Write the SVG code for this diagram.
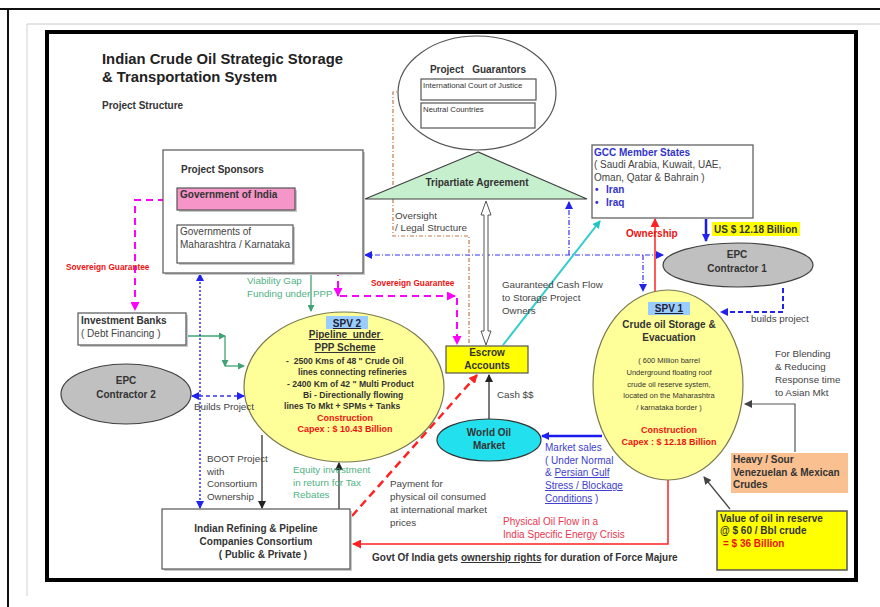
<svg xmlns="http://www.w3.org/2000/svg" width="880" height="607" viewBox="0 0 880 607">
<style>
text{font-family:"Liberation Sans",Arial,sans-serif;fill:#333}
.b{font-weight:bold}
.t10{font-size:10px}
.g{fill:#444;font-size:9.8px}
.red{fill:#ee1111}
.grn{fill:#4fb283;font-size:9.8px}
.blu{fill:#3333cc}
.mid{text-anchor:middle}
.box{fill:#fff;stroke:#555;stroke-width:1.2}
.sh{fill:#c8c8c8}
.u{text-decoration:underline}
</style>
<defs>
<marker id="aMag" markerUnits="userSpaceOnUse" markerWidth="9" markerHeight="9" refX="8" refY="4.5" orient="auto-start-reverse"><path d="M0,0 L9,4.5 L0,9 z" fill="#ff00ff"/></marker>
<marker id="aBlu" markerUnits="userSpaceOnUse" markerWidth="8" markerHeight="8" refX="7" refY="4" orient="auto-start-reverse"><path d="M0,0 L8,4 L0,8 z" fill="#2222ee"/></marker>
<marker id="aGrn" markerUnits="userSpaceOnUse" markerWidth="7" markerHeight="7" refX="6" refY="3.5" orient="auto-start-reverse"><path d="M0,0 L7,3.5 L0,7 z" fill="#3fa374"/></marker>
<marker id="aRed" markerUnits="userSpaceOnUse" markerWidth="9" markerHeight="9" refX="8" refY="4.5" orient="auto-start-reverse"><path d="M0,0 L9,4.5 L0,9 z" fill="#ff2222"/></marker>
<marker id="aBlk" markerUnits="userSpaceOnUse" markerWidth="8" markerHeight="8" refX="7" refY="4" orient="auto-start-reverse"><path d="M0,0 L8,4 L0,8 z" fill="#222"/></marker>
<marker id="aCyn" markerUnits="userSpaceOnUse" markerWidth="8" markerHeight="8" refX="7" refY="4" orient="auto-start-reverse"><path d="M0,0 L8,4 L0,8 z" fill="#22c4c4"/></marker>
<marker id="aGry" markerUnits="userSpaceOnUse" markerWidth="8" markerHeight="8" refX="7" refY="4" orient="auto-start-reverse"><path d="M0,0 L8,4 L0,8 z" fill="#444"/></marker>
</defs>

<!-- page frame -->
<rect x="0" y="0" width="880" height="607" fill="#fff"/>
<line x1="0" y1="9" x2="880" y2="9" stroke="#111" stroke-width="2"/>
<line x1="8" y1="9" x2="8" y2="607" stroke="#111" stroke-width="2"/>
<line x1="27" y1="24" x2="880" y2="24" stroke="#c8c8c8" stroke-width="1"/>
<line x1="27" y1="24" x2="27" y2="596" stroke="#d0d0d0" stroke-width="1"/>
<rect x="47" y="32" width="809" height="548" fill="none" stroke="#000" stroke-width="4"/>

<!-- title -->
<g id="title">
<text x="102" y="64" class="b" style="font-size:14.8px;fill:#222">Indian Crude Oil Strategic Storage</text>
<text x="102" y="82" class="b" style="font-size:14.8px;fill:#222">&amp; Transportation System</text>
<text x="102" y="109" class="b t10" style="fill:#333">Project Structure</text>
</g>

<!-- connectors -->
<g id="connectors" fill="none">
<!-- oversight dash-dot -->
<polyline points="403,92 393,92 393,236 469,236 469,344" stroke="#c8784a" stroke-width="1.2" stroke-dasharray="4,2,1,2"/>
<!-- magenta sovereign guarantee -->
<polyline points="177,200 135,200 135,310" stroke="#ff00ff" stroke-width="2" stroke-dasharray="7,5" marker-end="url(#aMag)"/>
<line x1="295" y1="192" x2="336" y2="192" stroke="#ff00ff" stroke-width="2" stroke-dasharray="7,5" marker-end="url(#aMag)"/>
<line x1="338" y1="197" x2="338" y2="296" stroke="#ff00ff" stroke-width="2" stroke-dasharray="7,5" marker-end="url(#aMag)"/>
<line x1="340" y1="296" x2="455" y2="296" stroke="#ff00ff" stroke-width="2" stroke-dasharray="7,5" marker-end="url(#aMag)"/>
<line x1="457" y1="298" x2="457" y2="344" stroke="#ff00ff" stroke-width="2" stroke-dasharray="7,5" marker-end="url(#aMag)"/>
<!-- green viability -->
<line x1="296" y1="201" x2="311" y2="201" stroke="#3fa374" stroke-width="1.3" marker-end="url(#aGrn)"/>
<line x1="311" y1="201" x2="311" y2="311" stroke="#3fa374" stroke-width="1.3" marker-end="url(#aGrn)"/>
<!-- green investment banks -->
<line x1="186" y1="336" x2="225" y2="336" stroke="#3fa374" stroke-width="1.3" marker-end="url(#aGrn)"/>
<line x1="225" y1="336" x2="225" y2="366" stroke="#3fa374" stroke-width="1.3" marker-end="url(#aGrn)"/>
<line x1="225" y1="366" x2="244" y2="366" stroke="#3fa374" stroke-width="1.3" marker-end="url(#aGrn)"/>
<!-- blue dotted vertical sponsors-consortium -->
<line x1="200" y1="274" x2="200" y2="508" stroke="#3333ee" stroke-width="1.5" stroke-dasharray="2,2" marker-start="url(#aBlu)" marker-end="url(#aBlu)"/>
<!-- blue dashed EPC2-SPV2 -->
<line x1="192" y1="396" x2="244" y2="396" stroke="#3333ee" stroke-width="1.5" stroke-dasharray="4,3" marker-start="url(#aBlu)" marker-end="url(#aBlu)"/>
<!-- blue dash-dot horizontal -->
<line x1="365" y1="255" x2="663" y2="255" stroke="#3333ee" stroke-width="1.2" stroke-dasharray="5,2,1,2" marker-start="url(#aBlu)" marker-end="url(#aBlu)"/>
<line x1="569" y1="255" x2="569" y2="202" stroke="#3333ee" stroke-width="1.2" stroke-dasharray="5,2,1,2" marker-end="url(#aBlu)"/>
<line x1="643" y1="255" x2="643" y2="291" stroke="#3333ee" stroke-width="1.2" stroke-dasharray="5,2,1,2" marker-end="url(#aBlu)"/>
<!-- ownership red -->
<line x1="655" y1="293" x2="655" y2="219" stroke="#ff2222" stroke-width="1.5" marker-end="url(#aRed)"/>
<!-- GCC to EPC1 -->
<line x1="706" y1="219" x2="706" y2="241" stroke="#1a1aee" stroke-width="2.5" marker-end="url(#aBlu)"/>
<!-- builds project -->
<polyline points="783,288 783,312 721,312" stroke="#2222ee" stroke-width="2" stroke-dasharray="5,3" marker-end="url(#aBlu)"/>
<!-- cyan guaranteed cash flow -->
<line x1="503" y1="345" x2="600" y2="221" stroke="#33cccc" stroke-width="2" marker-end="url(#aCyn)"/>
<!-- hollow double arrow -->
<polygon points="486,201 491,215 488,215 488,331 491,331 486,345 481,331 484,331 484,215 481,215" fill="#fff" stroke="#555" stroke-width="1"/>
<!-- cash $$ -->
<line x1="489" y1="419" x2="489" y2="375" stroke="#222" stroke-width="1.2" marker-end="url(#aBlk)"/>
<!-- market sales -->
<line x1="602" y1="436" x2="542" y2="436" stroke="#1a1aee" stroke-width="2.5" marker-end="url(#aBlu)"/>
<!-- red dashed payment -->
<line x1="352" y1="516" x2="477" y2="375" stroke="#ff2222" stroke-width="2.5" stroke-dasharray="8,5" marker-end="url(#aRed)"/>
<!-- physical oil flow -->
<polyline points="668,480 668,544 353,544" stroke="#ff2222" stroke-width="1.5" marker-end="url(#aRed)"/>
<!-- heavy sour to SPV1 -->
<polyline points="795,452 795,404 745,404" stroke="#555" stroke-width="1.2" marker-end="url(#aGry)"/>
<!-- value to SPV1 -->
<line x1="730" y1="509" x2="704" y2="477" stroke="#444" stroke-width="1.2" marker-end="url(#aGry)"/>
<!-- SPV2 to consortium -->
<line x1="262" y1="435" x2="262" y2="508" stroke="#222" stroke-width="1.2" marker-end="url(#aBlk)"/>
<!-- consortium to SPV2 -->
<line x1="339" y1="509" x2="339" y2="463" stroke="#222" stroke-width="1.2" marker-end="url(#aBlk)"/>
</g>

<!-- nodes -->
<g id="guarantors">
<ellipse cx="477" cy="93" rx="79" ry="57" fill="#fff" stroke="#555" stroke-width="1.2"/>
<text x="478" y="73" class="b t10 mid" xml:space="preserve">Project   Guarantors</text>
<rect x="421" y="79" width="115" height="21" class="box"/>
<text x="423" y="88" style="font-size:7.8px">International Court of Justice</text>
<rect x="421" y="103" width="114" height="25" class="box"/>
<text x="423" y="112" style="font-size:7.8px">Neutral Countries</text>
</g>

<g id="tripartite">
<polygon points="478,152 365,199 587,199" fill="#c6efce" stroke="#404040" stroke-width="1.2"/>
<text x="477" y="186" class="b t10 mid">Tripartiate Agreement</text>
</g>

<g id="sponsors">
<rect x="165" y="152" width="200" height="123" class="sh"/>
<rect x="163" y="150" width="200" height="123" class="box"/>
<text x="181" y="173" class="b t10">Project Sponsors</text>
<rect x="179" y="190" width="118" height="22" class="sh"/>
<rect x="177" y="188" width="118" height="22" fill="#f595c8" stroke="#555" stroke-width="1.2"/>
<text x="180" y="198" class="b t10">Government of India</text>
<rect x="179" y="227" width="116" height="38" class="sh"/>
<rect x="177" y="225" width="116" height="38" class="box"/>
<text x="180" y="235" class="t10" style="fill:#444">Governments of</text>
<text x="180" y="248" class="t10" style="fill:#444">Maharashtra / Karnataka</text>
</g>

<g id="sovereign-labels">
<text x="66" y="270" class="b red" style="font-size:8.3px">Sovereign Guarantee</text>
<text x="371" y="286" class="b red" style="font-size:8.3px">Sovereign Guarantee</text>
</g>

<g id="investment-banks">
<rect x="80" y="315" width="108" height="32" class="sh"/>
<rect x="78" y="313" width="108" height="32" class="box"/>
<text x="81" y="324" class="b t10">Investment Banks</text>
<text x="81" y="337" class="t10" style="fill:#444">( Debt Financing )</text>
</g>

<g id="epc2">
<ellipse cx="126" cy="394" rx="65" ry="30" fill="#c0c0c0" stroke="#404040" stroke-width="1.2"/>
<text x="126" y="384" class="b t10 mid">EPC</text>
<text x="126" y="398" class="b t10 mid">Contractor 2</text>
</g>

<g id="spv2">
<ellipse cx="344" cy="387" rx="100" ry="75" fill="#ffff99" stroke="#7a7a50" stroke-width="1.2"/>
<rect x="326" y="316" width="42" height="13" fill="#99ccff"/>
<text x="347" y="327" class="b t10 mid u" style="fill:#223">SPV 2</text>
<text x="346" y="338" class="b t10 mid u" xml:space="preserve">Pipeline  under </text>
<text x="345" y="351" class="b t10 mid u">PPP Scheme </text>
<text x="286" y="364" class="b" style="font-size:8.6px" xml:space="preserve">-  2500 Kms of 48 " Crude Oil</text>
<text x="298" y="375" class="b" style="font-size:8.6px">lines connecting refineries</text>
<text x="287" y="387" class="b" style="font-size:8.6px">- 2400 Km of 42 " Multi Product</text>
<text x="303" y="398" class="b" style="font-size:8.6px">Bi - Directionally flowing</text>
<text x="284" y="409" class="b" style="font-size:8.6px">lines To Mkt + SPMs + Tanks</text>
<text x="345" y="421" class="b mid red" style="font-size:9px">Construction</text>
<text x="345" y="432" class="b mid red" style="font-size:9px">Capex : $ 10.43 Billion</text>
</g>

<g id="consortium">
<rect x="164" y="511" width="188" height="60" class="sh"/>
<rect x="162" y="509" width="188" height="60" class="box"/>
<text x="256" y="532" class="b t10 mid">Indian Refining &amp; Pipeline</text>
<text x="256" y="545" class="b t10 mid">Companies Consortium</text>
<text x="263" y="558" class="b t10 mid">( Public &amp; Private )</text>
</g>

<g id="escrow">
<rect x="446" y="346" width="82" height="27" fill="#ffff00" stroke="#555" stroke-width="1.2"/>
<text x="487" y="356" class="b t10 mid">Escrow</text>
<text x="487" y="369" class="b t10 mid">Accounts</text>
</g>

<g id="world-oil">
<ellipse cx="489" cy="440" rx="52" ry="21" fill="#22e0ee" stroke="#333" stroke-width="1.2"/>
<text x="489" y="436" class="b t10 mid">World Oil</text>
<text x="489" y="449" class="b t10 mid">Market</text>
</g>

<g id="spv1">
<ellipse cx="668" cy="385" rx="75" ry="95" fill="#ffff99" stroke="#7a7a50" stroke-width="1.2"/>
<rect x="648" y="302" width="42" height="13" fill="#99ccff"/>
<text x="669" y="312" class="b t10 mid u" style="fill:#223">SPV 1</text>
<text x="669" y="328" class="b t10 mid">Crude oil Storage &amp;</text>
<text x="669" y="341" class="b t10 mid">Evacuation</text>
<text x="669" y="363" class="mid" style="font-size:7.5px">( 600 Million barrel</text>
<text x="669" y="375" class="mid" style="font-size:7.5px">Underground floating roof</text>
<text x="669" y="387" class="mid" style="font-size:7.5px">crude oil reserve system,</text>
<text x="669" y="398" class="mid" style="font-size:7.5px">located on the Maharashtra</text>
<text x="669" y="410" class="mid" style="font-size:7.5px">/ karnataka border )</text>
<text x="669" y="433" class="b mid red" style="font-size:9px">Construction</text>
<text x="669" y="445" class="b mid red" style="font-size:9px">Capex : $ 12.18 Billion</text>
</g>

<g id="gcc">
<rect x="592" y="145" width="161" height="73" class="box"/>
<text x="594" y="156" class="b t10 blu">GCC Member States</text>
<text x="594" y="168" class="t10" style="fill:#444">( Saudi Arabia, Kuwait, UAE,</text>
<text x="594" y="181" class="t10" style="fill:#444">Oman, Qatar &amp; Bahrain )</text>
<text x="595" y="193" class="b t10 blu">•</text>
<text x="606" y="193" class="b t10 blu">Iran</text>
<text x="595" y="206" class="b t10 blu">•</text>
<text x="606" y="206" class="b t10 blu">Iraq</text>
</g>

<g id="us-billion">
<rect x="712" y="222" width="88" height="14" fill="#ffff00"/>
<text x="714" y="233" class="b t10">US $ 12.18 Billion</text>
</g>

<g id="epc1">
<ellipse cx="738" cy="265" rx="75" ry="22" fill="#c0c0c0" stroke="#404040" stroke-width="1.2"/>
<text x="737" y="258" class="b t10 mid">EPC</text>
<text x="737" y="272" class="b t10 mid">Contractor 1</text>
</g>

<g id="heavy-sour">
<rect x="731" y="453" width="117" height="40" fill="#fac090"/>
<text x="733" y="463" class="b t10">Heavy / Sour</text>
<text x="733" y="476" class="b t10">Venezuelan &amp; Mexican</text>
<text x="733" y="488" class="b t10">Crudes</text>
</g>

<g id="value-box">
<rect x="717" y="511" width="130" height="59" fill="#ffff00" stroke="#555" stroke-width="1.5"/>
<text x="720" y="522" class="b t10">Value of oil in reserve</text>
<text x="720" y="534" class="b t10">@ $ 60 / Bbl crude</text>
<text x="723" y="547" class="b t10 red">= $ 36 Billion</text>
</g>

<g id="labels">
<text x="626" y="237" class="b t10 red">Ownership</text>
<text x="395" y="219" class="g">Oversight</text>
<text x="395" y="231" class="g">/ Legal Structure</text>
<text x="247" y="284" class="grn">Viability Gap</text>
<text x="247" y="297" class="grn">Funding under PPP</text>
<text x="194" y="410" class="g">Builds Project</text>
<text x="207" y="462" class="g">BOOT Project</text>
<text x="207" y="475" class="g">with</text>
<text x="207" y="487" class="g">Consortium</text>
<text x="207" y="500" class="g">Ownership</text>
<text x="293" y="473" class="grn">Equity investment</text>
<text x="293" y="486" class="grn">in return for Tax</text>
<text x="293" y="498" class="grn">Rebates</text>
<text x="390" y="487" class="g">Payment for</text>
<text x="390" y="500" class="g">physical oil consumed</text>
<text x="390" y="513" class="g">at international market</text>
<text x="390" y="526" class="g">prices</text>
<text x="502" y="288" class="g">Gauranteed Cash Flow</text>
<text x="502" y="301" class="g">to Storage Project</text>
<text x="502" y="314" class="g">Owners</text>
<text x="497" y="398" class="g">Cash $$</text>
<text x="545" y="451" class="t10" style="fill:#4040d0">Market sales</text>
<text x="545" y="464" class="t10" style="fill:#4040d0">( Under Normal</text>
<text x="545" y="476" class="t10" style="fill:#4040d0">&amp; <tspan class="u">Persian Gulf</tspan></text>
<text x="545" y="489" class="t10 u" style="fill:#4040d0">Stress / Blockage</text>
<text x="545" y="502" class="t10" style="fill:#4040d0"><tspan class="u">Conditions</tspan> )</text>
<text x="751" y="322" class="g">builds project</text>
<text x="775" y="357" class="g">For Blending</text>
<text x="775" y="370" class="g">&amp; Reducing</text>
<text x="775" y="383" class="g">Response time</text>
<text x="775" y="396" class="g">to Asian Mkt</text>
<text x="503" y="525" class="t10" style="fill:#e8364f">Physical Oil Flow in a</text>
<text x="503" y="538" class="t10" style="fill:#e8364f">India Specific Energy Crisis</text>
<text x="372" y="561" class="b t10">Govt Of India gets <tspan class="u">ownership rights</tspan> for duration of Force Majure</text>
</g>
</svg>
